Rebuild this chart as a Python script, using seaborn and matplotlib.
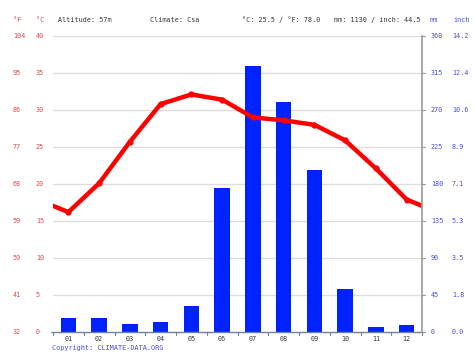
import matplotlib
matplotlib.use("Agg")
import matplotlib.pyplot as plt
import matplotlib.transforms as mtransforms
import seaborn as sns
import pandas as pd

# climate data
months = ["01", "02", "03", "04", "05", "06", "07", "08", "09", "10", "11", "12"]
temp_c = [16.2, 20.1, 25.7, 30.8, 32.1, 31.4, 29.0, 28.6, 28.0, 25.9, 22.1, 17.9]
precip_mm = [17, 17, 10, 12, 32, 175, 323, 280, 197, 52, 6, 8]
c_ticks = [0, 5, 10, 15, 20, 25, 30, 35, 40]
mm_ticks = [0, 45, 90, 135, 180, 225, 270, 315, 360]

W, H = 474, 355
RED_TXT = "#e0474c"
BLUE_TXT = "#4a4adf"
BAR = "#0022ff"
LINE = "#ff0000"

sns.set_style("white")
plt.rcParams["font.family"] = ["DejaVu Sans Mono"]
fs = 4.9

fig = plt.figure(figsize=(W / 100, H / 100), dpi=100)
x0, x1, ytop, ybot = 53, 422, 36, 332
ax_mm = fig.add_axes([x0 / W, 1 - ybot / H, (x1 - x0) / W, (ybot - ytop) / H])
ax_t = ax_mm.twinx()

# precipitation bars
bars = pd.DataFrame({"month": months, "mm": precip_mm})
sns.barplot(data=bars, x="month", y="mm", ax=ax_mm, color=BAR, saturation=1,
            width=0.5, linewidth=0)
ax_mm.set_xlim(-0.5, 11.5)
ax_mm.set_ylim(0, 360)

# temperature line, wrapped to the edges
edge = (temp_c[0] + temp_c[-1]) / 2
line = pd.DataFrame({"x": [-0.5] + list(range(12)) + [11.5],
                     "t": [edge] + temp_c + [edge]})
sns.lineplot(data=line, x="x", y="t", ax=ax_t, color=LINE, linewidth=3.2)
ax_t.plot(range(12), temp_c, "o", color=LINE, markersize=3.5)
ax_t.set_ylim(0, 40)
ax_t.set_xlim(-0.5, 11.5)

# grid
for c in c_ticks[1:]:
    ax_mm.axhline(c * 9, color="#dddddd", linewidth=1, zorder=0)

for a in (ax_mm, ax_t):
    a.set_xlabel("")
    a.set_ylabel("")
    a.set_yticks([])
    for s in a.spines.values():
        s.set_visible(False)
ax_mm.set_xticks([])
ax_t.spines["right"].set_visible(True)
ax_t.spines["right"].set_color("#999999")
ax_t.spines["right"].set_linewidth(1.2)
ax_mm.spines["bottom"].set_visible(True)
ax_mm.spines["bottom"].set_color("#7080a0")
ax_mm.spines["bottom"].set_linewidth(1)

# bottom ticks at month boundaries
for b in range(13):
    ax_mm.plot([b - 0.5, b - 0.5], [0, -4], color="#7080a0", lw=0.8, clip_on=False)
for i, m in enumerate(months):
    ax_mm.text(i, -4.5, m, ha="center", va="top", fontsize=fs, color="#333333")

# left labels (°F and °C)
tl = mtransforms.blended_transform_factory(fig.transFigure, ax_t.transData)
for c in c_ticks:
    f = round(c * 9 / 5 + 32)
    fig.text(13 / W, c, str(f), transform=tl, fontsize=fs, color=RED_TXT,
             ha="left", va="center")
    fig.text(36 / W, c, str(c), transform=tl, fontsize=fs, color=RED_TXT,
             ha="left", va="center")
ax_t.plot([-0.5, -0.58], [0, 0], color="#7080a0", lw=0.8, clip_on=False)

# right labels (mm and inch)
tr = mtransforms.blended_transform_factory(fig.transFigure, ax_mm.transData)
for mm in mm_ticks:
    fig.text(431 / W, mm, str(mm), transform=tr, fontsize=fs, color=BLUE_TXT,
             ha="left", va="center")
    fig.text(452 / W, mm, f"{mm / 25.4:.1f}", transform=tr, fontsize=fs,
             color=BLUE_TXT, ha="left", va="center")
    ax_mm.plot([11.5, 11.6], [mm, mm], color="#999999", lw=0.8, clip_on=False)

# header
hy = 1 - 20 / H
fig.text(13 / W, hy, "°F", fontsize=fs, color=RED_TXT, va="center")
fig.text(36 / W, hy, "°C", fontsize=fs, color=RED_TXT, va="center")
fig.text(58 / W, hy, "Altitude: 57m", fontsize=fs, color="#333333", va="center")
fig.text(150 / W, hy, "Climate: Csa", fontsize=fs, color="#333333", va="center")
fig.text(242 / W, hy, "°C: 25.5 / °F: 78.0", fontsize=fs, color="#333333", va="center")
fig.text(334 / W, hy, "mm: 1130 / inch: 44.5", fontsize=fs, color="#333333", va="center")
fig.text(430 / W, hy, "mm", fontsize=fs, color=BLUE_TXT, va="center")
fig.text(453 / W, hy, "inch", fontsize=fs, color=BLUE_TXT, va="center")

fig.text(52 / W, 1 - 348 / H, "Copyright: CLIMATE-DATA.ORG", fontsize=fs,
         color=BLUE_TXT, va="center")

fig.savefig("out.png", dpi=100)
